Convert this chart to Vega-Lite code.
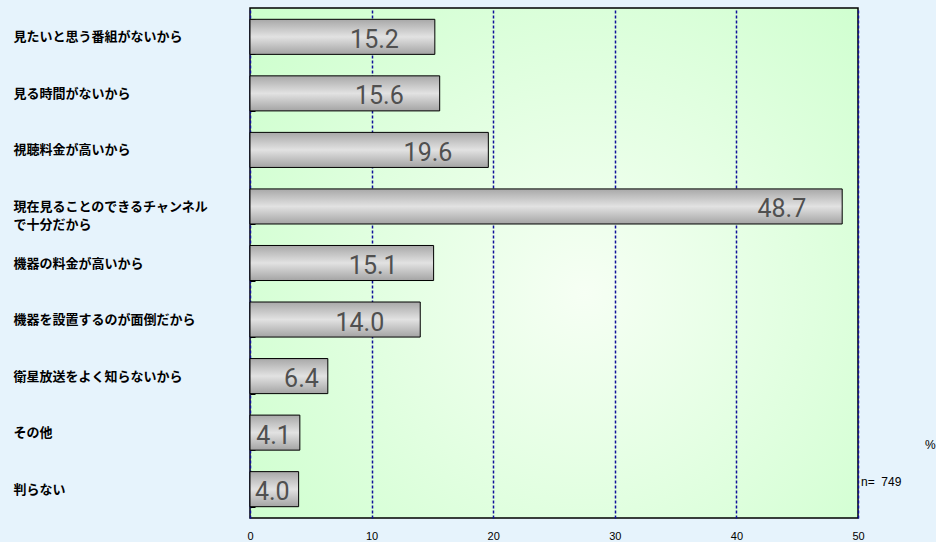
{
  "$schema": "https://vega.github.io/schema/vega-lite/v6.json",
  "width": 608,
  "height": 510,
  "autosize": {"type": "none"},
  "padding": {"left": 250, "top": 8, "right": 78, "bottom": 24},
  "background": "#e6f3fc",
  "config": {
    "view": {
      "fill": {"gradient": "radial", "x1": 0.55, "y1": 0.55, "x2": 0.55, "y2": 0.55, "r1": 0, "r2": 0.72,
        "stops": [{"offset": 0, "color": "#f6fff4"}, {"offset": 1, "color": "#ccffcc"}]},
      "stroke": "#000000",
      "strokeWidth": 1.5
    }
  },
  "data": {
    "values": [
      {"reason": "見たいと思う番組がないから", "pct": 15.2},
      {"reason": "見る時間がないから", "pct": 15.6},
      {"reason": "視聴料金が高いから", "pct": 19.6},
      {"reason": "現在見ることのできるチャンネルで十分だから", "pct": 48.7},
      {"reason": "機器の料金が高いから", "pct": 15.1},
      {"reason": "機器を設置するのが面倒だから", "pct": 14.0},
      {"reason": "衛星放送をよく知らないから", "pct": 6.4},
      {"reason": "その他", "pct": 4.1},
      {"reason": "判らない", "pct": 4.0}
    ]
  },
  "encoding": {
    "y": {
      "field": "reason",
      "type": "nominal",
      "sort": null,
      "scale": {"paddingInner": 0.38, "paddingOuter": 0.2},
      "axis": {
        "title": null,
        "domain": false,
        "ticks": true,
        "tickBand": "extent",
        "tickSize": -5,
        "tickWidth": 1,
        "tickColor": "#000000",
        "labelAlign": "left",
        "labelBaseline": "middle",
        "labelPadding": 242,
        "labelFont": "Noto Sans CJK JP",
        "labelFontSize": 13,
        "labelFontWeight": "bold",
        "labelColor": "#000000",
        "labelLimit": 0,
        "labelLineHeight": 18,
        "labelExpr": "datum.label == '現在見ることのできるチャンネルで十分だから' ? ['現在見ることのできるチャンネル', 'で十分だから'] : datum.label"
      }
    }
  },
  "layer": [
    {
      "mark": {
        "type": "bar",
        "color": {"gradient": "linear", "x1": 0, "y1": 0, "x2": 0, "y2": 1,
          "stops": [{"offset": 0, "color": "#a8a8a8"}, {"offset": 0.5, "color": "#e2e2e2"}, {"offset": 1, "color": "#a4a4a4"}]},
        "stroke": "#000000",
        "strokeWidth": 1
      },
      "encoding": {
        "x": {
          "field": "pct",
          "type": "quantitative",
          "scale": {"domain": [0, 50], "nice": false},
          "axis": {
            "title": null,
            "values": [0, 10, 20, 30, 40, 50],
            "domain": false,
            "ticks": false,
            "grid": true,
            "gridColor": "#10109a",
            "gridDash": [3, 2],
            "gridWidth": 1.5,
            "labelPadding": 12,
            "labelFont": "Liberation Sans",
            "labelFontSize": 11,
            "labelColor": "#000000",
            "labelFlush": false
          }
        }
      }
    },
    {
      "mark": {"type": "text", "align": "right", "baseline": "middle", "dx": {"expr": "datum.pct < 10 ? -9 : -36"}, "dy": 3, "font": "Roboto", "fontWeight": 400, "fontSize": 25, "color": "#505050"},
      "encoding": {
        "x": {"field": "pct", "type": "quantitative"},
        "text": {"field": "pct", "type": "quantitative", "format": ".1f"}
      }
    },
    {
      "data": {"values": [{"label": "n=\u00a0\u00a0749"}]},
      "mark": {"type": "text", "align": "left", "baseline": "middle", "dx": 3, "dy": -7, "font": "Liberation Sans", "fontSize": 12, "color": "#000000"},
      "encoding": {
        "x": {"datum": 50, "type": "quantitative"},
        "y": {"datum": "判らない"},
        "text": {"field": "label"}
      }
    },
    {
      "data": {"values": [{"label": "%"}]},
      "mark": {"type": "text", "align": "left", "baseline": "middle", "dx": 67, "dy": -44, "font": "Liberation Sans", "fontSize": 12, "color": "#000000"},
      "encoding": {
        "x": {"datum": 50, "type": "quantitative"},
        "y": {"datum": "判らない"},
        "text": {"field": "label"}
      }
    }
  ]
}
